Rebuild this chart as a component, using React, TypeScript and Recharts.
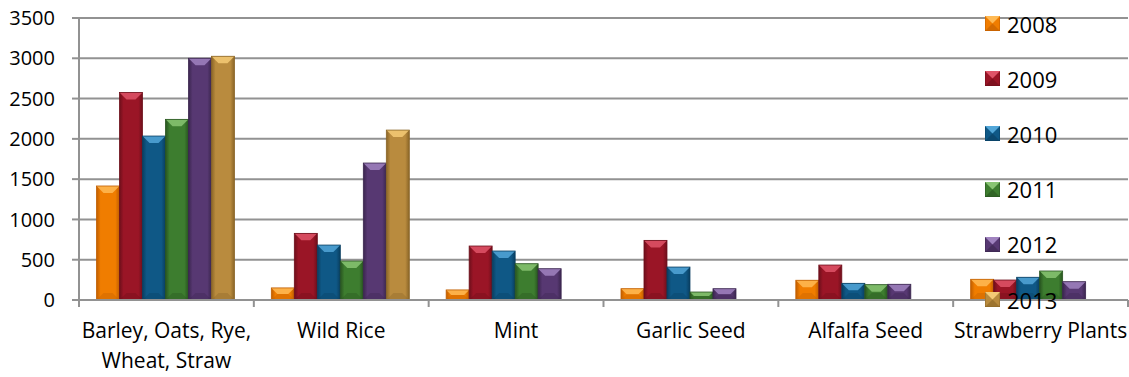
import React from "react";
import {
  BarChart,
  Bar,
  XAxis,
  YAxis,
  CartesianGrid,
  Legend,
} from "recharts";

// Crops and yearly values
const categories = [
  "Barley, Oats, Rye, Wheat, Straw",
  "Wild Rice",
  "Mint",
  "Garlic Seed",
  "Alfalfa Seed",
  "Strawberry Plants",
];
const y2008 = [1415, 150, 125, 140, 245, 257];
const y2009 = [2575, 827, 670, 740, 434, 248];
const y2010 = [2035, 682, 608, 409, 207, 282];
const y2011 = [2242, 484, 450, 99, 190, 360];
const y2012 = [3000, 1700, 388, 140, 195, 227];
const y2013 = [3025, 2109, 0, 0, 0, 0];
const years = ["2008", "2009", "2010", "2011", "2012", "2013"];
const yTicks = [0, 500, 1000, 1500, 2000, 2500, 3000, 3500];

const palette: Record<string, { main: string; light: string; dark: string }> = {
  "2008": { main: "#F07D00", light: "#FFBA55", dark: "#C05E00" },
  "2009": { main: "#9A1526", light: "#DF5468", dark: "#6E0F1B" },
  "2010": { main: "#0F5886", light: "#52A6D8", dark: "#093E60" },
  "2011": { main: "#3D7D2F", light: "#88C472", dark: "#285420" },
  "2012": { main: "#573872", light: "#A083BF", dark: "#3B264F" },
  "2013": { main: "#B98B3E", light: "#F4CA76", dark: "#8A6527" },
};

const data = categories.map((name, i) => ({
  name,
  "2008": y2008[i],
  "2009": y2009[i],
  "2010": y2010[i],
  "2011": y2011[i],
  "2012": y2012[i],
  "2013": y2013[i],
}));

const FONT = "'Open Sans', sans-serif";
const GRID = "#929292";

function makeBevelBar(year: string) {
  const c = palette[year];
  return (props: any) => {
    const { x, y, width, height } = props;
    if (!height || height <= 0) return <g />;
    const b = Math.min(7, height / 2, width / 2);
    return (
      <g>
        <rect x={x} y={y} width={width} height={height} fill={`url(#grad-${year})`} />
        <polygon
          points={`${x},${y} ${x + width},${y} ${x + width - b},${y + b} ${x + b},${y + b}`}
          fill={c.light}
          opacity={0.85}
        />
        <polygon
          points={`${x},${y + height} ${x + width},${y + height} ${x + width - b},${y + height - b} ${x + b},${y + height - b}`}
          fill={c.dark}
          opacity={0.35}
        />
        <rect x={x} y={y} width={width} height={height} fill="none" stroke={c.dark} strokeWidth={0.8} />
      </g>
    );
  };
}

function LegendIcon({ year }: { year: string }) {
  const c = palette[year];
  return (
    <svg width={15} height={15} style={{ display: "block" }}>
      <rect x={0} y={0} width={15} height={15} fill={c.main} stroke={c.dark} strokeWidth={1} />
      <polygon points="0,0 15,0 7.5,7.5" fill={c.light} />
      <polygon points="0,15 15,15 7.5,7.5" fill={c.dark} opacity={0.6} />
    </svg>
  );
}

function renderLegend() {
  return (
    <div style={{ fontFamily: FONT }}>
      {years.map((yr) => (
        <div key={yr} style={{ display: "flex", alignItems: "center", height: 55.2 }}>
          <LegendIcon year={yr} />
          <span style={{ fontSize: 22, color: "#000", marginLeft: 7, lineHeight: "22px" }}>{yr}</span>
        </div>
      ))}
    </div>
  );
}

function CategoryTick(props: any) {
  const { x, y, payload, index } = props;
  const half = payload && payload.offset ? payload.offset : 87.5;
  const words = String(payload.value).split(" ");
  const lines: string[] = [];
  let cur = "";
  const maxChars = 18;
  words.forEach((w) => {
    const next = cur ? cur + " " + w : w;
    if (next.length > maxChars && cur) {
      lines.push(cur);
      cur = w;
    } else {
      cur = next;
    }
  });
  if (cur) lines.push(cur);
  return (
    <g>
      <line x1={x - half} y1={y} x2={x - half} y2={y + 7} stroke={GRID} strokeWidth={2} />
      {index === categories.length - 1 && (
        <line x1={x + half} y1={y} x2={x + half} y2={y + 7} stroke={GRID} strokeWidth={2} />
      )}
      <text x={x} y={y + 38} textAnchor="middle" fontFamily={FONT} fontSize={21} fill="#000">
        {lines.map((ln, i) => (
          <tspan key={i} x={x} dy={i === 0 ? 0 : 30}>
            {ln}
          </tspan>
        ))}
      </text>
    </g>
  );
}

export default function App() {
  return (
    <div style={{ position: "absolute", left: 0, top: 0, width: 1129, height: 377, background: "#fff" }}>
      <BarChart
        width={1129}
        height={377}
        data={data}
        margin={{ top: 18, right: 1, left: 0, bottom: 0 }}
        barCategoryGap="10%"
        barGap={0}
      >
        <defs>
          {years.map((yr) => (
            <linearGradient key={yr} id={`grad-${yr}`} x1="0" y1="0" x2="1" y2="0">
              <stop offset="0%" stopColor={palette[yr].dark} />
              <stop offset="18%" stopColor={palette[yr].main} />
              <stop offset="82%" stopColor={palette[yr].main} />
              <stop offset="100%" stopColor={palette[yr].dark} />
            </linearGradient>
          ))}
        </defs>
        <CartesianGrid vertical={false} stroke={GRID} strokeWidth={2} />
        <XAxis
          dataKey="name"
          height={77}
          interval={0}
          tick={<CategoryTick />}
          tickLine={false}
          tickSize={0}
          tickMargin={0}
          axisLine={{ stroke: GRID, strokeWidth: 2 }}
        />
        <YAxis
          width={79}
          domain={[0, 3500]}
          ticks={yTicks}
          interval={0}
          tick={{ fill: "#000", fontSize: 20, fontFamily: FONT }}
          tickSize={7}
          tickMargin={17}
          tickLine={{ stroke: GRID, strokeWidth: 2 }}
          axisLine={{ stroke: GRID, strokeWidth: 2 }}
        />
        <Legend
          layout="vertical"
          align="center"
          verticalAlign="middle"
          content={renderLegend}
          wrapperStyle={{ left: 985, top: -4, width: 120 }}
        />
        {years.map((yr) => (
          <Bar
            key={yr}
            dataKey={yr}
            fill={palette[yr].main}
            shape={makeBevelBar(yr)}
            isAnimationActive={false}
          />
        ))}
      </BarChart>
    </div>
  );
}
